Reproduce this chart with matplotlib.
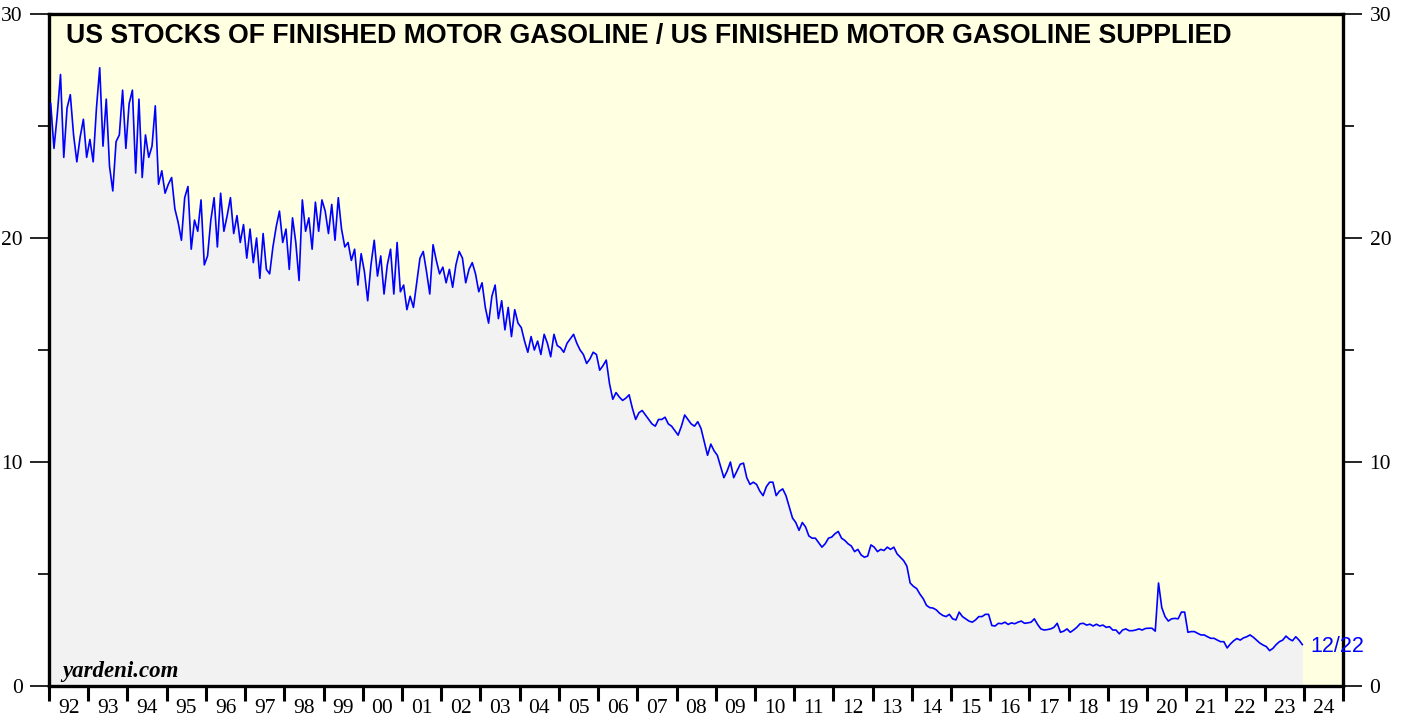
import numpy as np
import matplotlib
matplotlib.use("Agg")
import matplotlib.pyplot as plt
from matplotlib.ticker import FixedLocator, NullFormatter

# ratio of gasoline stocks to gasoline supplied (days), monthly readings
vals_92_99 = [
    26.0, 24.0, 25.5, 27.3, 23.6, 25.8, 26.4, 24.6, 23.4, 24.5, 25.3, 23.6,
    24.4, 23.4, 25.8, 27.6, 24.1, 26.2, 23.2, 22.1, 24.3, 24.6, 26.6, 24.0,
    26.0, 26.6, 22.9, 26.2, 22.7, 24.6, 23.6, 24.1, 25.9, 22.4, 23.0, 22.0,
    22.4, 22.7, 21.3, 20.7, 19.9, 21.8, 22.3, 19.5, 20.8, 20.3, 21.7, 18.8,
    19.2, 20.8, 21.8, 19.6, 22.0, 20.3, 21.0, 21.8, 20.2, 21.0, 19.8, 20.6,
    19.1, 20.4, 18.9, 20.0, 18.2, 20.2, 18.6, 18.4, 19.6, 20.5, 21.2, 19.8,
    20.4, 18.6, 20.9, 19.8, 18.1, 21.7, 20.3, 20.9, 19.5, 21.6, 20.3, 21.7,
    21.2, 20.2, 21.5, 19.9, 21.8, 20.4, 19.6, 19.8, 19.0, 19.5, 17.9, 19.3,
]
vals_00_07 = [
    18.5, 17.2, 18.8, 19.9, 18.3, 19.2, 17.5, 18.8, 19.5, 17.5, 19.8, 17.6,
    17.9, 16.8, 17.4, 16.9, 18.0, 19.1, 19.4, 18.5, 17.5, 19.7, 19.0, 18.4,
    18.7, 18.0, 18.6, 17.8, 18.8, 19.4, 19.1, 18.0, 18.6, 18.9, 18.4, 17.6,
    18.0, 16.9, 16.2, 17.4, 17.9, 16.4, 17.2, 15.9, 16.9, 15.6, 16.8, 16.2,
    16.0, 15.4, 14.9, 15.6, 15.0, 15.4, 14.8, 15.7, 15.3, 14.7, 15.7, 15.2,
    15.1, 14.9, 15.3, 15.5, 15.7, 15.3, 15.0, 14.8, 14.4, 14.6, 14.9, 14.8,
    14.1, 14.3, 14.55, 13.5, 12.8, 13.1, 12.9, 12.75, 12.85, 13.0, 12.4, 11.9,
    12.2, 12.3, 12.1, 11.9, 11.7, 11.6, 11.9, 11.9, 12.0, 11.7, 11.6, 11.4,
]
vals_08_15 = [
    11.2, 11.6, 12.1, 11.9, 11.7, 11.6, 11.8, 11.5, 10.9, 10.3, 10.8, 10.5,
    10.3, 9.8, 9.3, 9.6, 10.0, 9.3, 9.6, 9.9, 9.95, 9.3, 9.0, 9.1,
    9.0, 8.7, 8.5, 8.9, 9.1, 9.1, 8.5, 8.7, 8.8, 8.5, 8.0, 7.5,
    7.3, 6.95, 7.3, 7.1, 6.7, 6.6, 6.6, 6.4, 6.2, 6.35, 6.6, 6.65,
    6.8, 6.9, 6.6, 6.5, 6.35, 6.25, 6.0, 6.1, 5.85, 5.75, 5.8, 6.3,
    6.2, 6.0, 6.1, 6.05, 6.2, 6.1, 6.2, 5.9, 5.75, 5.6, 5.35, 4.6,
    4.45, 4.35, 4.1, 3.9, 3.6, 3.5, 3.48, 3.4, 3.25, 3.15, 3.1, 3.2,
    3.0, 2.95, 3.3, 3.1, 3.0, 2.9, 2.85, 2.95, 3.1, 3.1, 3.2, 3.2,
]
vals_16_23 = [
    2.7, 2.68, 2.8, 2.78, 2.85, 2.75, 2.82, 2.78, 2.85, 2.9, 2.8, 2.82,
    2.85, 3.0, 2.75, 2.55, 2.5, 2.52, 2.55, 2.62, 2.8, 2.4, 2.45, 2.55,
    2.4, 2.5, 2.62, 2.78, 2.8, 2.72, 2.76, 2.68, 2.76, 2.68, 2.72, 2.62,
    2.65, 2.5, 2.5, 2.33, 2.5, 2.55, 2.47, 2.47, 2.5, 2.55, 2.5, 2.57,
    2.58, 2.58, 2.45, 4.6, 3.5, 3.1, 2.9, 3.0, 3.02, 3.0, 3.3, 3.3,
    2.4, 2.43, 2.43, 2.35, 2.28, 2.28, 2.2, 2.13, 2.13, 2.05, 1.98, 1.98,
    1.7, 1.88, 2.02, 2.12, 2.05, 2.15, 2.2, 2.28, 2.18, 2.05, 1.92, 1.83,
    1.76, 1.58, 1.68, 1.85, 1.98, 2.05, 2.23, 2.1, 2.02, 2.2, 2.05, 1.85,
]
first_year = 1992
last_label = "12/22"
year_labels = ["%02d" % (y % 100) for y in range(1992, 2025)]

values = np.array(vals_92_99 + vals_00_07 + vals_08_15 + vals_16_23)
x = first_year + (np.arange(len(values)) + 0.5) / 12.0

fig = plt.figure(figsize=(14.06, 7.17), dpi=100)
ax = fig.add_axes([0.0349, 0.0432, 0.9204, 0.9373])
ax.set_facecolor("#FFFFE2")

ax.fill_between(x, 0, values, color="#F2F2F2", lw=0, zorder=1)
ax.plot(x, values, color="#0000FF", lw=1.2, zorder=3)

ax.set_xlim(1992, 2025)
ax.set_ylim(0, 30)

for s in ax.spines.values():
    s.set_linewidth(2.4)
    s.set_color("black")

# x axis: ticks at year boundaries, labels in between
ax.xaxis.set_major_locator(FixedLocator(np.arange(1992, 2026)))
ax.xaxis.set_major_formatter(NullFormatter())
ax.xaxis.set_minor_locator(FixedLocator(np.arange(1992, 2025) + 0.5))
ax.set_xticklabels(year_labels, minor=True)
ax.tick_params(axis="x", which="major", direction="out", length=11, width=2.2)
ax.tick_params(axis="x", which="minor", length=0, pad=9,
               labelsize=15.5, labelfontfamily="Liberation Serif")

# y axis on both sides
ax.set_yticks([0, 10, 20, 30])
ax.set_yticks([5, 15, 25], minor=True)
ax.tick_params(axis="y", which="both", left=True, right=True,
               labelleft=True, labelright=True, direction="out")
ax.tick_params(axis="y", which="major", length=14, width=1.2, pad=5,
               labelsize=15.5, labelfontfamily="Liberation Serif")
ax.tick_params(axis="y", which="minor", length=8, width=1.2)

ax.text(0.0131, 0.957, "US STOCKS OF FINISHED MOTOR GASOLINE / US FINISHED MOTOR GASOLINE SUPPLIED",
        transform=ax.transAxes, ha="left", va="baseline", fontsize=19.2,
        fontweight="bold", family="Liberation Sans", color="black", zorder=5)
ax.text(0.010, 0.013, "yardeni.com", transform=ax.transAxes, ha="left",
        va="baseline", fontsize=16.5, fontweight="bold", fontstyle="italic",
        family="Liberation Serif", zorder=5)
ax.text(x[-1] + 0.2, values[-1] - 0.1, last_label, ha="left", va="center",
        fontsize=15.5, family="Liberation Sans", color="#0000FF", zorder=5,
        clip_on=False)

fig.savefig("out.png", dpi=100)
